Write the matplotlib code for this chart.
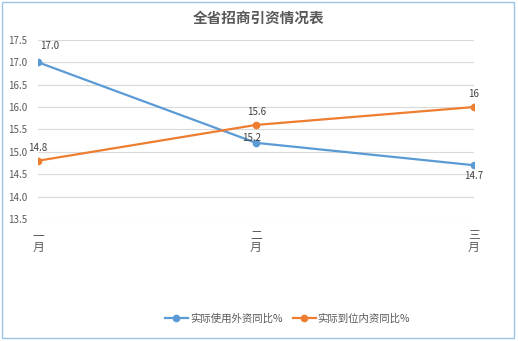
import matplotlib.pyplot as plt
from matplotlib.patches import Rectangle

plt.rcParams['font.family'] = ['Noto Sans CJK SC', 'DejaVu Sans']

months = ['一\n月', '二\n月', '三\n月']
foreign = [17.0, 15.2, 14.7]
domestic = [14.8, 15.6, 16.0]
foreign_labels = ['17.0', '15.2', '14.7']
domestic_labels = ['14.8', '15.6', '16']
yticks = [13.5, 14.0, 14.5, 15.0, 15.5, 16.0, 16.5, 17.0, 17.5]

fig = plt.figure(figsize=(5.18, 3.41), dpi=100)
ax = fig.add_axes([0.0734, 0.358, 0.8416, 0.525])

x = range(len(months))
ax.plot(x, foreign, color='#5B9BD5', lw=1.6, marker='o', ms=4.5, label='实际使用外资同比%')
ax.plot(x, domestic, color='#ED7D31', lw=1.6, marker='o', ms=4.5, label='实际到位内资同比%')

# data labels, offsets in points
lbl = dict(fontsize=7, color='#404040', ha='center', va='center', textcoords='offset points')
offs_f = [(8.6, 11.5), (-3, 3.5), (0, -8)]
offs_d = [(0, 9.5), (0.7, 9), (0, 9.5)]
for i in x:
    ax.annotate(foreign_labels[i], (i, foreign[i]), xytext=offs_f[i], **lbl)
    ax.annotate(domestic_labels[i], (i, domestic[i]), xytext=offs_d[i], **lbl)

ax.set_xlim(0, 2)
ax.set_ylim(13.5, 17.5)
ax.set_yticks(yticks)
ax.set_yticklabels(['%.1f' % v for v in yticks])
ax.set_xticks(list(x))
ax.set_xticklabels(months, linespacing=0.95)
ax.tick_params(axis='both', length=0, labelsize=7, colors='#595959')
ax.tick_params(axis='x', pad=7, labelsize=8.5)
ax.tick_params(axis='y', pad=8)
ax.grid(axis='y', color='#D9D9D9', lw=0.8)
for s in ax.spines.values():
    s.set_visible(False)

fig.text(0.5, 0.948, '全省招商引资情况表', ha='center', va='center', fontsize=10.5,
         color='#595959', fontweight='bold')
fig.legend(loc='center', bbox_to_anchor=(0.555, 0.065), ncol=2, frameon=False,
           fontsize=7.5, labelcolor='#595959', handlelength=2.2, columnspacing=1.0,
           handletextpad=0.2)

fig.patches.append(Rectangle((0.004, 0.008), 0.988, 0.985, transform=fig.transFigure,
                             fill=False, ec='#9DC3E6', lw=1.0))

fig.savefig('out.png', dpi=100)
